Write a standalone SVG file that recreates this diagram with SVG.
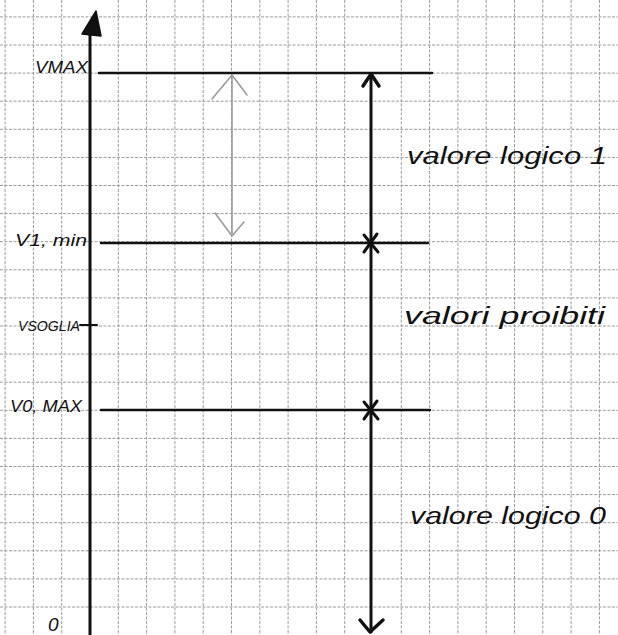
<svg xmlns="http://www.w3.org/2000/svg" width="618" height="635" viewBox="0 0 618 635">
<style>
.grid{stroke:#9a9a9a;stroke-width:1;stroke-dasharray:3 1.5;fill:none}
.ink{stroke:#111;fill:none;stroke-linecap:round;stroke-linejoin:round}
.gray{stroke:#9a9a9a;fill:none;stroke-width:1.6;stroke-linecap:round}
.lbl{font-family:"Liberation Sans",sans-serif;font-style:italic;fill:#111}
.big{font-family:"Liberation Sans",sans-serif;font-style:italic;fill:#111;font-size:23px}
</style>
<rect width="618" height="635" fill="#fff"/>
<g id="grid" class="grid">
<path d="M5.1 0V635M33.4 0V635M61.7 0V635M118.3 0V635M146.6 0V635M174.9 0V635M203.2 0V635M231.5 0V635M259.8 0V635M288.1 0V635M316.4 0V635M344.7 0V635M401.3 0V635M429.6 0V635M457.9 0V635M486.2 0V635M514.5 0V635M542.8 0V635M571.1 0V635M599.4 0V635"/>
<path d="M0 16.9H618M0 45H618M0 73.1H618M0 101.2H618M0 129.3H618M0 157.4H618M0 185.5H618M0 213.6H618M0 241.7H618M0 269.8H618M0 297.9H618M0 326H618M0 354.1H618M0 382.2H618M0 410.3H618M0 438.4H618M0 466.5H618M0 494.6H618M0 522.7H618M0 550.8H618M0 578.9H618M0 607H618"/>
</g>
<g id="axis">
<line class="ink" x1="90" y1="30" x2="90" y2="635" stroke-width="3"/>
<polygon points="96,11 82,34 101,36" fill="#111" stroke="#111" stroke-width="1.5" stroke-linejoin="round"/>
</g>
<g id="connectors">
<line class="ink" x1="99" y1="73" x2="432" y2="73" stroke-width="2.5"/>
<line class="ink" x1="101" y1="243" x2="428" y2="243" stroke-width="2.5"/>
<line class="ink" x1="101" y1="410" x2="430" y2="410" stroke-width="2.5"/>
<line class="ink" x1="80" y1="325" x2="97" y2="325" stroke-width="2"/>
<line class="ink" x1="371" y1="75" x2="371" y2="632" stroke-width="3"/>
<path class="ink" d="M363 86L371 74L379 86" stroke-width="3.5"/>
<path class="ink" d="M360 620L370 632L383 620" stroke-width="3.5"/>
<path class="ink" d="M364 235L378 252M377 234L364 252" stroke-width="3"/>
<path class="ink" d="M364 402L378 419M377 401L364 419" stroke-width="3"/>
<line class="gray" x1="232" y1="76" x2="232" y2="234"/>
<path class="gray" d="M212 99L232 75L247 95"/>
<path class="gray" d="M215 213L232 236L244 222"/>
</g>
<g id="label-vmax"><text class="lbl" x="35" y="73" font-size="17" textLength="53" lengthAdjust="spacingAndGlyphs">VMAX</text></g>
<g id="label-v1min"><text class="lbl" x="15" y="246" font-size="17" textLength="72" lengthAdjust="spacingAndGlyphs">V1, min</text></g>
<g id="label-vsoglia"><text class="lbl" x="18" y="331" font-size="15" textLength="62" lengthAdjust="spacingAndGlyphs">VSOGLIA</text></g>
<g id="label-v0max"><text class="lbl" x="10" y="412" font-size="17" textLength="72" lengthAdjust="spacingAndGlyphs">V0, MAX</text></g>
<g id="label-zero"><text class="lbl" x="48" y="631" font-size="19">0</text></g>
<g id="label-1"><text class="big" x="407" y="164" textLength="200" lengthAdjust="spacingAndGlyphs">valore logico 1</text></g>
<g id="label-proibiti"><text class="big" x="404" y="324" textLength="201" lengthAdjust="spacingAndGlyphs">valori proibiti</text></g>
<g id="label-0"><text class="big" x="410" y="524" textLength="196" lengthAdjust="spacingAndGlyphs">valore logico 0</text></g>
</svg>
